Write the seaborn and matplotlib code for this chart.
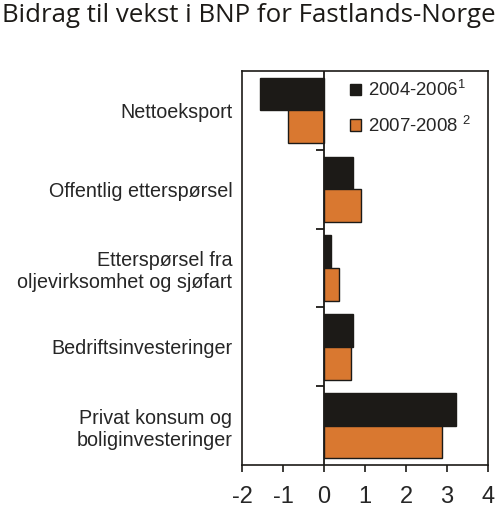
import matplotlib
matplotlib.use("Agg")
import pandas as pd
import seaborn as sns
import matplotlib.pyplot as plt

categories = ['Nettoeksport', 'Offentlig etterspørsel', 'Etterspørsel fra\noljevirksomhet og sjøfart',
              'Bedriftsinvesteringer', 'Privat konsum og\nboliginvesteringer']
periods = ['2004-2006$^{1}$', '2007-2008 $^{2}$']
vals_0406 = [-1.56, 0.70, 0.16, 0.70, 3.23]
vals_0708 = [-0.89, 0.90, 0.37, 0.67, 2.88]
colors = ['#1c1a17', '#d97830']

df = pd.DataFrame({
    'kategori': categories * 2,
    'periode': [periods[0]] * len(categories) + [periods[1]] * len(categories),
    'bidrag': vals_0406 + vals_0708,
})

sns.set_style('white')
plt.rcParams['font.family'] = ['Liberation Sans', 'DejaVu Sans']
plt.rcParams['mathtext.fontset'] = 'custom'
plt.rcParams['mathtext.rm'] = 'Liberation Sans'
plt.rcParams['mathtext.it'] = 'Liberation Sans'
plt.rcParams['mathtext.bf'] = 'Liberation Sans'

fig = plt.figure(figsize=(5, 5.15), dpi=100)
ax = fig.add_axes([0.484, 0.097, 0.492, 0.765])

sns.barplot(data=df, y='kategori', x='bidrag', hue='periode', order=categories,
            hue_order=periods, palette=colors, saturation=1, width=0.83, orient='h',
            edgecolor='#1c1a17', linewidth=1.0, ax=ax)

ax.set_xlim(-2, 4)
ax.set_ylim(len(categories) - 0.5, -0.5)
ax.set_xticks(range(-2, 5))
ax.set_xticklabels([str(v) for v in range(-2, 5)], fontsize=17)
ax.set_xlabel('')
ax.set_ylabel('')
ax.tick_params(axis='x', direction='out', length=5, width=1.2, color='#1c1a17', pad=10, bottom=True)
ax.tick_params(axis='y', length=0, pad=7, labelsize=14.2)
for s in ax.spines.values():
    s.set_color('#1c1a17')
    s.set_linewidth(1.2)

# zero line with small ticks between categories
ax.axvline(0, color='#1c1a17', lw=1.3, zorder=3)
ax.hlines([i + 0.5 for i in range(len(categories) - 1)], -0.2, 0, color='#1c1a17', lw=1.3, zorder=3)

leg = ax.legend(loc='upper right', frameon=False, fontsize=13.4, handlelength=0.58,
                handleheight=0.58, handletextpad=0.4, labelspacing=0.82,
                borderaxespad=0.3, bbox_to_anchor=(0.985, 1.01))

fig.text(0.004, 0.995, 'Bidrag til vekst i BNP for Fastlands-Norge', ha='left', va='top',
         fontsize=18.6, family=['Open Sans', 'DejaVu Sans'], color='#1c1a17')

fig.savefig('out.png', dpi=100, facecolor='white')
